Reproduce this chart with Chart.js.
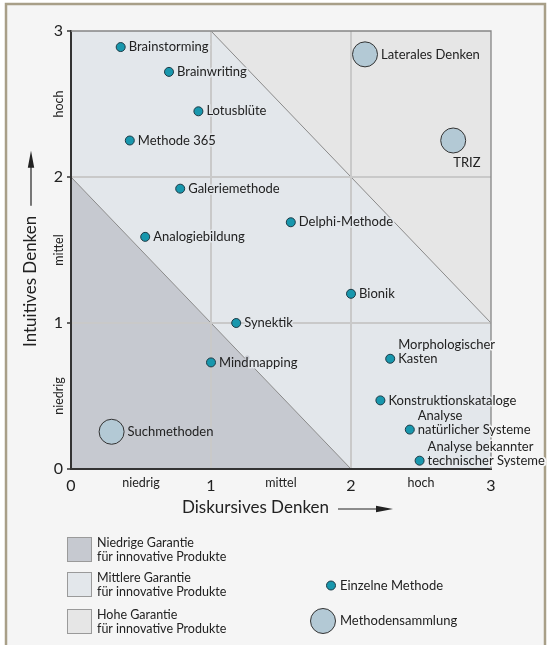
<!DOCTYPE html>
<html lang="de">
<head>
<meta charset="utf-8">
<title>Intuitives und diskursives Denken</title>
<script src="https://cdn.jsdelivr.net/npm/chart.js@4.4.0/dist/chart.umd.min.js"></script>
<style>
  html, body { margin: 0; padding: 0; background: #fff; }
  canvas { display: block; }
</style>
</head>
<body>
<canvas id="methodenChart" width="550" height="645"></canvas>
<script>
// Einzelne Methoden
const einzelNamen = ['Brainstorming', 'Brainwriting', 'Lotusblüte', 'Methode 365', 'Galeriemethode',
    'Analogiebildung', 'Delphi-Methode', 'Bionik', 'Synektik', 'Mindmapping',
    'Morphologischer\nKasten', 'Konstruktionskataloge', 'Analyse\nnatürlicher Systeme',
    'Analyse bekannter\ntechnischer Systeme'];
const einzelX = [0.355, 0.70, 0.91, 0.42, 0.78, 0.53, 1.57, 2.00, 1.18, 1.00, 2.28, 2.21, 2.42, 2.49];
const einzelY = [2.89, 2.72, 2.45, 2.25, 1.92, 1.59, 1.69, 1.20, 1.00, 0.73, 0.755, 0.47, 0.27, 0.057];

// Methodensammlungen
const sammlungNamen = ['Laterales Denken', 'TRIZ', 'Suchmethoden'];
const sammlungX = [2.10, 2.73, 0.29];
const sammlungY = [2.84, 2.25, 0.255];

// Achsen
const achsenWerte = [0, 1, 2, 3];
const stufen = ['niedrig', 'mittel', 'hoch'];
const stufenWerte = [0.5, 1.5, 2.5];

// Legende der Flächen
const garantieNamen = ['Niedrige Garantie\nfür innovative Produkte',
    'Mittlere Garantie\nfür innovative Produkte',
    'Hohe Garantie\nfür innovative Produkte'];

const FONT = 'Lato, "Open Sans", sans-serif';
const farben = {
    niedrig: '#c6c9d0',
    mittel: '#e3e7eb',
    hoch: '#e6e6e6',
    rahmen: '#a89f88',
    hinter: '#f5f5f5',
    text: '#222222'
};

const labelUnten = ['TRIZ'];

// Hintergrund, Flächen, Diagonalen
const flaechenPlugin = {
    id: 'flaechen',
    beforeDraw(chart) {
        const { ctx, scales: { x, y } } = chart;
        ctx.save();
        ctx.fillStyle = '#ffffff';
        ctx.fillRect(0, 0, chart.width, chart.height);
        ctx.fillStyle = farben.hinter;
        ctx.fillRect(6, 4, 539, chart.height);
        ctx.strokeStyle = farben.rahmen;
        ctx.lineWidth = 2.5;
        ctx.beginPath();
        ctx.moveTo(6, chart.height + 5);
        ctx.lineTo(6, 4);
        ctx.lineTo(545, 4);
        ctx.lineTo(545, chart.height + 5);
        ctx.stroke();

        const poly = (pts, color) => {
            ctx.beginPath();
            pts.forEach(([a, b], i) => {
                const px = x.getPixelForValue(a), py = y.getPixelForValue(b);
                i ? ctx.lineTo(px, py) : ctx.moveTo(px, py);
            });
            ctx.closePath();
            ctx.fillStyle = color;
            ctx.fill();
        };
        poly([[0, 0], [0, 2], [2, 0]], farben.niedrig);
        poly([[0, 2], [0, 3], [1, 3], [3, 1], [3, 0], [2, 0]], farben.mittel);
        poly([[1, 3], [3, 3], [3, 1]], farben.hoch);

        ctx.strokeStyle = '#8a8a8a';
        ctx.lineWidth = 1;
        [[[0, 2], [2, 0]], [[1, 3], [3, 1]]].forEach(([p, q]) => {
            ctx.beginPath();
            ctx.moveTo(x.getPixelForValue(p[0]), y.getPixelForValue(p[1]));
            ctx.lineTo(x.getPixelForValue(q[0]), y.getPixelForValue(q[1]));
            ctx.stroke();
        });
        ctx.restore();
    },
    beforeDatasetsDraw(chart) {
        const { ctx, chartArea: a } = chart;
        ctx.save();
        ctx.strokeStyle = '#858585';
        ctx.lineWidth = 1.3;
        ctx.beginPath();
        ctx.moveTo(a.left, a.top);
        ctx.lineTo(a.right, a.top);
        ctx.lineTo(a.right, a.bottom);
        ctx.stroke();
        ctx.restore();
    }
};

// Hintergrundfarbe an einer Pixelposition
const hinterAn = (chart, px, py) => {
    const xv = chart.scales.x.getValueForPixel(px);
    const yv = chart.scales.y.getValueForPixel(py);
    if (xv < 0 || xv > 3 || yv < 0 || yv > 3) return farben.hinter;
    const s = xv + yv;
    return s < 2 ? farben.niedrig : (s < 4 ? farben.mittel : farben.hoch);
};

// Beschriftung der Punkte
const beschriftungPlugin = {
    id: 'beschriftung',
    afterDatasetsDraw(chart) {
        const { ctx } = chart;
        ctx.save();
        ctx.font = '13px ' + FONT;
        ctx.textBaseline = 'middle';
        ctx.textAlign = 'left';
        ctx.lineJoin = 'round';
        ctx.lineWidth = 3;
        const texte = [];
        chart.data.datasets.forEach((ds, di) => {
            const meta = chart.getDatasetMeta(di);
            meta.data.forEach((pt, i) => {
                const name = ds.namen[i];
                const r = ds.pointRadius;
                const zeilen = name.split('\n');
                let tx = pt.x + r + 3.5;
                let ty = pt.y - (zeilen.length - 1) * 14;
                if (labelUnten.includes(name)) {
                    tx = pt.x;
                    ty = pt.y + r + 9.5;
                }
                zeilen.forEach((z, k) => texte.push([z, tx, ty + k * 14]));
            });
        });
        // Hof je Zeichen in der Farbe des Untergrunds
        texte.forEach(([z, tx, yy]) => {
            let cx = tx;
            for (const ch of z) {
                const w = ctx.measureText(ch).width;
                ctx.strokeStyle = hinterAn(chart, cx + w / 2, yy);
                ctx.strokeText(ch, cx, yy);
                cx += w;
            }
        });
        ctx.fillStyle = farben.text;
        texte.forEach(([z, tx, yy]) => ctx.fillText(z, tx, yy));
        ctx.restore();
    }
};

// Stufen, Achsentitel, Legende
const rahmenPlugin = {
    id: 'rahmen',
    afterDraw(chart) {
        const { ctx, scales: { x, y } } = chart;
        ctx.save();
        ctx.fillStyle = farben.text;
        ctx.strokeStyle = farben.text;

        // Stufen an den Achsen
        ctx.font = '12.5px ' + FONT;
        ctx.textAlign = 'center';
        ctx.textBaseline = 'middle';
        stufen.forEach((s, i) => {
            ctx.fillText(s, x.getPixelForValue(stufenWerte[i]), 483);
            ctx.save();
            ctx.translate(59, y.getPixelForValue(stufenWerte[i]));
            ctx.rotate(-Math.PI / 2);
            ctx.fillText(s, 0, 0);
            ctx.restore();
        });

        const pfeil = (x0, y0, laenge) => {
            ctx.lineWidth = 1.2;
            ctx.beginPath();
            ctx.moveTo(x0, y0);
            ctx.lineTo(x0 + laenge - 10, y0);
            ctx.stroke();
            ctx.beginPath();
            ctx.moveTo(x0 + laenge, y0);
            ctx.lineTo(x0 + laenge - 17, y0 - 3.2);
            ctx.lineTo(x0 + laenge - 17, y0 + 3.2);
            ctx.closePath();
            ctx.fill();
        };

        // Achsentitel
        ctx.font = '17px ' + FONT;
        ctx.textAlign = 'left';
        const tx = 'Diskursives Denken';
        ctx.fillText(tx, 182, 508);
        const wx = ctx.measureText(tx).width;
        pfeil(182 + wx + 9, 509, 55);

        ctx.save();
        ctx.translate(31, 347);
        ctx.rotate(-Math.PI / 2);
        const ty = 'Intuitives Denken';
        ctx.fillText(ty, 0, 0);
        const wy = ctx.measureText(ty).width;
        pfeil(wy + 10, 0, 55);
        ctx.restore();

        // Legende Flächen
        const boxFarben = [farben.niedrig, farben.mittel, farben.hoch];
        const boxTop = [537, 572, 609];
        ctx.font = '12.5px ' + FONT;
        garantieNamen.forEach((n, i) => {
            ctx.fillStyle = boxFarben[i];
            ctx.fillRect(67.5, boxTop[i] + 0.5, 24, 24);
            ctx.strokeStyle = '#9a9a9a';
            ctx.lineWidth = 1;
            ctx.strokeRect(67.5, boxTop[i] + 0.5, 24, 24);
            ctx.fillStyle = farben.text;
            n.split('\n').forEach((z, k) => ctx.fillText(z, 97, boxTop[i] + 6 + k * 13.5));
        });

        // Legende Punkte
        const lp = [[331, 585.5], [323, 621]];
        chart.data.datasets.forEach((ds, i) => {
            ctx.beginPath();
            ctx.arc(lp[i][0], lp[i][1], ds.pointRadius, 0, Math.PI * 2);
            ctx.fillStyle = ds.backgroundColor;
            ctx.fill();
            ctx.strokeStyle = ds.borderColor;
            ctx.lineWidth = 1;
            ctx.stroke();
            ctx.fillStyle = farben.text;
            ctx.font = '13px ' + FONT;
            ctx.fillText(ds.label, 340, lp[i][1]);
        });
        ctx.restore();
    }
};

const gitterFarbe = ctx => (ctx.tick && (ctx.tick.value === 1 || ctx.tick.value === 2)) ? '#c9c9c9' : 'rgba(0,0,0,0)';

new Chart(document.getElementById('methodenChart'), {
    type: 'scatter',
    data: {
        datasets: [{
            label: 'Einzelne Methode',
            namen: einzelNamen,
            data: einzelX.map((v, i) => ({ x: v, y: einzelY[i] })),
            backgroundColor: '#1897ad',
            borderColor: '#1e3b46',
            borderWidth: 1,
            pointRadius: 4.5
        }, {
            label: 'Methodensammlung',
            namen: sammlungNamen,
            data: sammlungX.map((v, i) => ({ x: v, y: sammlungY[i] })),
            backgroundColor: '#b3c9d5',
            borderColor: '#333333',
            borderWidth: 1,
            pointRadius: 12.5
        }]
    },
    options: {
        responsive: false,
        animation: false,
        events: [],
        clip: false,
        layout: { padding: { top: 31, right: 59, left: 0, bottom: 0 } },
        plugins: { legend: { display: false }, tooltip: { enabled: false } },
        scales: {
            x: {
                type: 'linear',
                min: 0, max: 3,
                afterBuildTicks: s => { s.ticks = achsenWerte.map(v => ({ value: v })); },
                afterFit: s => { s.height = 176; },
                grid: { color: gitterFarbe, lineWidth: 2, drawTicks: false },
                border: { color: '#333333', width: 2 },
                ticks: { padding: 7, color: farben.text, font: { family: FONT, size: 16 } }
            },
            y: {
                type: 'linear',
                min: 0, max: 3,
                afterBuildTicks: s => { s.ticks = achsenWerte.map(v => ({ value: v })); },
                afterFit: s => { s.width = 71; },
                grid: { color: gitterFarbe, lineWidth: 2, drawTicks: true, tickLength: 4, tickColor: '#333333', tickWidth: 1.5 },
                border: { color: '#333333', width: 2 },
                ticks: { padding: 4, color: farben.text, font: { family: FONT, size: 16 } }
            }
        }
    },
    plugins: [flaechenPlugin, beschriftungPlugin, rahmenPlugin]
});
</script>
</body>
</html>
